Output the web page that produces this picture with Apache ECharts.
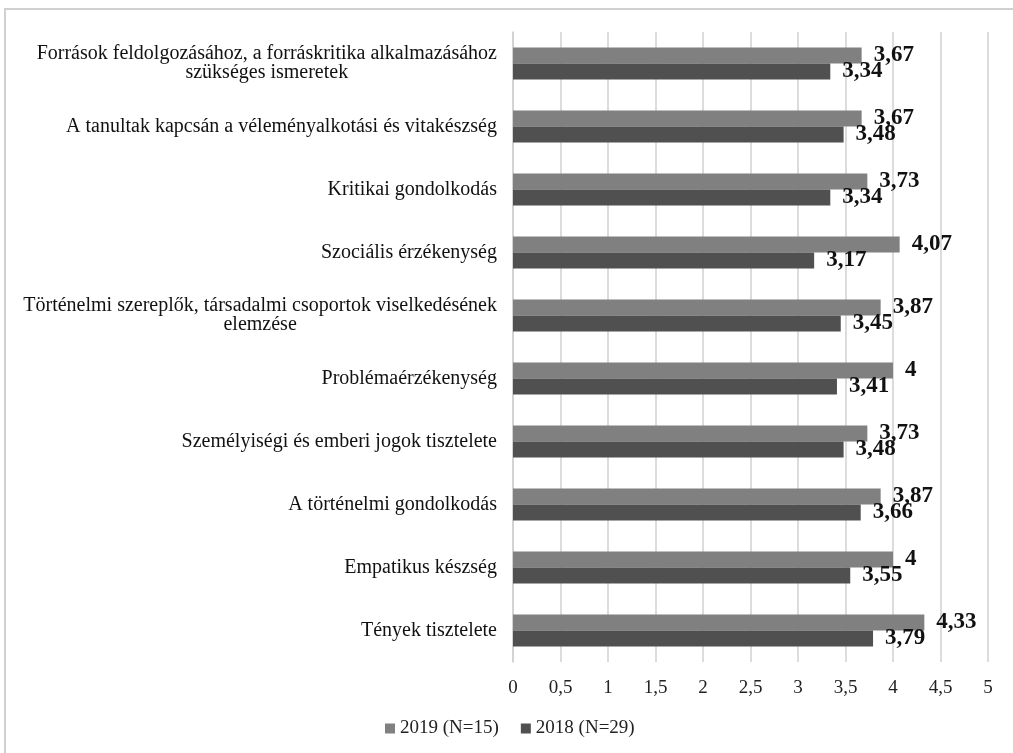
<!DOCTYPE html>
<html>
<head>
<meta charset="utf-8">
<script src="https://cdn.jsdelivr.net/npm/echarts@6/dist/echarts.min.js"></script>
<style>html,body{margin:0;padding:0;background:#fff}#c{width:1013px;height:753px}</style>
</head>
<body>
<div id="c"></div>
<script>
const categories = [
  "Források feldolgozásához, a forráskritika alkalmazásához\nszükséges ismeretek",
  "A tanultak kapcsán a véleményalkotási és vitakészség",
  "Kritikai gondolkodás",
  "Szociális érzékenység",
  "Történelmi szereplők, társadalmi csoportok viselkedésének\nelemzése",
  "Problémaérzékenység",
  "Személyiségi és emberi jogok tisztelete",
  "A történelmi gondolkodás",
  "Empatikus készség",
  "Tények tisztelete"
];
const values2019 = [3.67, 3.67, 3.73, 4.07, 3.87, 4, 3.73, 3.87, 4, 4.33];
const values2018 = [3.34, 3.48, 3.34, 3.17, 3.45, 3.41, 3.48, 3.66, 3.55, 3.79];
const seriesNames = ["2019 (N=15)", "2018 (N=29)"];
const xTicks = [0, 0.5, 1, 1.5, 2, 2.5, 3, 3.5, 4, 4.5, 5];

const serif = "'Liberation Serif','Times New Roman',serif";
const fmt = v => String(v).replace('.', ',');

const chart = echarts.init(document.getElementById('c'), null, {renderer: 'canvas'});
chart.setOption({
  animation: false,
  backgroundColor: '#fff',
  graphic: [{
    type: 'rect',
    shape: {x: 5, y: 9, width: 1030, height: 780},
    style: {fill: 'none', stroke: '#d0d0d0', lineWidth: 2},
    silent: true
  }],
  grid: {left: 513, right: 25, top: 32, bottom: 91, containLabel: false},
  legend: {
    data: seriesNames,
    left: 385,
    top: 719,
    padding: 0,
    itemWidth: 10,
    itemHeight: 10,
    itemGap: 22,
    icon: 'rect',
    textStyle: {fontFamily: serif, fontSize: 19, color: '#222'}
  },
  xAxis: {
    type: 'value',
    min: 0,
    max: 5,
    interval: 0.5,
    axisLine: {show: false},
    axisTick: {show: false},
    axisLabel: {
      fontFamily: serif, fontSize: 19, color: '#222', margin: 17,
      formatter: v => fmt(xTicks.find(t => Math.abs(t - v) < 1e-9) ?? v)
    },
    splitLine: {show: true, lineStyle: {color: '#d0d0d0', width: 1.5}}
  },
  yAxis: {
    type: 'category',
    inverse: true,
    data: categories,
    axisLine: {show: true, lineStyle: {color: '#d0d0d0', width: 1.5}},
    axisTick: {show: false},
    axisLabel: {
      margin: 16,
      formatter: v => v.split('\n').map(l => '{a|' + l + '}').join('\n'),
      rich: {a: {fontFamily: serif, fontSize: 20, color: '#111', align: 'center', lineHeight: 19}}
    }
  },
  series: [
    {
      name: seriesNames[0],
      type: 'bar',
      data: values2019,
      barWidth: 16,
      barGap: '0%',
      itemStyle: {color: '#808080'},
      label: {
        show: true, position: 'right', distance: 12,
        fontFamily: serif, fontSize: 23, fontWeight: 'bold', color: '#111',
        formatter: p => fmt(p.value)
      }
    },
    {
      name: seriesNames[1],
      type: 'bar',
      data: values2018,
      barWidth: 16,
      barGap: '0%',
      itemStyle: {color: '#505050'},
      label: {
        show: true, position: 'right', distance: 12,
        fontFamily: serif, fontSize: 23, fontWeight: 'bold', color: '#111',
        formatter: p => fmt(p.value)
      }
    }
  ]
});
</script>
</body>
</html>
